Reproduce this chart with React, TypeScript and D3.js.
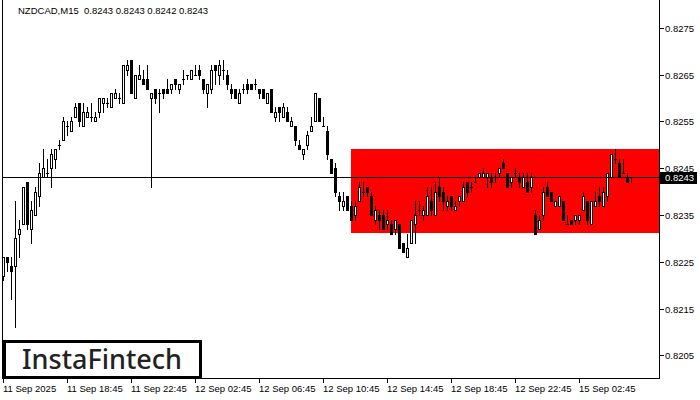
import React from "react";
import * as d3 from "d3";

const TITLE = "NZDCAD,M15  0.8243 0.8243 0.8242 0.8243";
const LAST_PRICE = 0.8243;
const ZONE_START_BAR = 86.9;
const ZONE_TOP = 0.8249;
const ZONE_BOTTOM = 0.82312;

const priceTicks = [0.8275, 0.8265, 0.8255, 0.8245, 0.8235, 0.8225, 0.8215, 0.8205];
const timeTickBars = [0, 16, 32, 48, 64, 80, 96, 112, 128, 144];
const timeTickLabels = [
  "11 Sep 2025", "11 Sep 18:45", "11 Sep 22:45", "12 Sep 02:45", "12 Sep 06:45",
  "12 Sep 10:45", "12 Sep 14:45", "12 Sep 18:45", "12 Sep 22:45", "15 Sep 02:45",
];

const open = [
  0.8222,0.8226,0.8224,0.8224,0.8231,0.8233,0.8242,0.8232,0.8235,0.8239,
  0.8243,0.8244,0.8245,0.8247,0.8250,0.8251,0.8254,0.8253,0.8256,0.8259,
  0.8254,0.8256,0.8256,0.8255,0.8257,0.8259,0.8259,0.8258,0.8260,0.8260,
  0.8259,0.8266,0.8268,0.8260,0.8264,0.8264,0.8264,0.8260,0.8262,0.8261,
  0.8262,0.8262,0.8262,0.8264,0.8262,0.8264,0.8265,0.8264,0.8265,0.8266,
  0.8264,0.8261,0.8262,0.8267,0.8265,0.8266,0.8265,0.8262,0.8262,0.8259,
  0.8262,0.8263,0.8263,0.8263,0.8262,0.8262,0.8259,0.8262,0.8256,0.8258,
  0.8256,0.8257,0.8254,0.8254,0.8250,0.8248,0.8250,0.8253,0.8255,0.8260,
  0.8254,0.8253,0.8247,0.8245,0.8239,0.8237,0.8239,0.8237,0.8235,0.8238,
  0.8240,0.8241,0.8239,0.8234,0.8235,0.8235,0.8233,0.8233,0.8232,0.8233,
  0.8229,0.8226,0.8229,0.8233,0.8236,0.8235,0.8235,0.8238,0.8235,0.8241,
  0.8240,0.8237,0.8239,0.8236,0.8238,0.8238,0.8242,0.8241,0.8242,0.8243,
  0.8243,0.8243,0.8243,0.8243,0.8244,0.8246,0.8244,0.8242,0.8244,0.8243,
  0.8241,0.8242,0.8241,0.8235,0.8232,0.8235,0.8241,0.8240,0.8237,0.8237,
  0.8238,0.8233,0.8234,0.8234,0.8234,0.8236,0.8238,0.8233,0.8237,0.8239,
  0.8237,0.8239,0.8243,0.8247,0.8246,0.8244,0.8243,0.8243,
];
const high = [
  0.8226,0.8226,0.8226,0.8238,0.8234,0.8241,0.8242,0.8238,0.8241,0.8246,
  0.8249,0.8247,0.8249,0.8249,0.8251,0.8256,0.8255,0.8256,0.8259,0.8259,
  0.8259,0.8258,0.8259,0.8257,0.8260,0.8260,0.8260,0.8261,0.8262,0.8261,
  0.8267,0.8268,0.8268,0.8265,0.8267,0.8266,0.8267,0.8261,0.8262,0.8262,
  0.8262,0.8264,0.8263,0.8264,0.8263,0.8266,0.8265,0.8266,0.8267,0.8267,
  0.8264,0.8263,0.8267,0.8267,0.8268,0.8268,0.8266,0.8263,0.8262,0.8262,
  0.8263,0.8264,0.8263,0.8264,0.8262,0.8262,0.8261,0.8262,0.8258,0.8258,
  0.8259,0.8258,0.8256,0.8254,0.8251,0.8249,0.8253,0.8256,0.8261,0.8260,
  0.8256,0.8254,0.8247,0.8246,0.8240,0.8240,0.8239,0.8238,0.8238,0.8242,
  0.8242,0.8241,0.8240,0.8237,0.8236,0.8236,0.8236,0.8234,0.8234,0.8233,
  0.8229,0.8231,0.8234,0.8238,0.8238,0.8237,0.8241,0.8241,0.8242,0.8243,
  0.8241,0.8239,0.8239,0.8238,0.8239,0.8242,0.8242,0.8242,0.8243,0.8244,
  0.8245,0.8244,0.8244,0.8244,0.8245,0.8247,0.8244,0.8243,0.8245,0.8244,
  0.8244,0.8244,0.8244,0.8236,0.8235,0.8241,0.8242,0.8240,0.8238,0.8239,
  0.8238,0.8235,0.8234,0.8235,0.8235,0.8240,0.8238,0.8238,0.8240,0.8241,
  0.8241,0.8244,0.8248,0.8249,0.8247,0.8247,0.8244,0.8243,
];
const low = [
  0.8221,0.8223,0.8217,0.8211,0.8226,0.8233,0.8232,0.8229,0.8235,0.8237,
  0.8243,0.8243,0.8241,0.8245,0.8249,0.8251,0.8252,0.8253,0.8256,0.8254,
  0.8254,0.8256,0.8255,0.8255,0.8256,0.8257,0.8258,0.8258,0.8260,0.8259,
  0.8259,0.8265,0.8261,0.8260,0.8264,0.8263,0.8262,0.8241,0.8259,0.8257,
  0.8260,0.8261,0.8261,0.8262,0.8261,0.8263,0.8264,0.8264,0.8265,0.8264,
  0.8261,0.8258,0.8261,0.8263,0.8263,0.8264,0.8262,0.8260,0.8260,0.8259,
  0.8261,0.8261,0.8262,0.8262,0.8260,0.8260,0.8259,0.8257,0.8255,0.8255,
  0.8256,0.8255,0.8254,0.8250,0.8249,0.8247,0.8249,0.8253,0.8255,0.8255,
  0.8254,0.8247,0.8244,0.8239,0.8236,0.8236,0.8236,0.8234,0.8234,0.8238,
  0.8239,0.8239,0.8235,0.8233,0.8232,0.8232,0.8232,0.8231,0.8231,0.8228,
  0.8227,0.8226,0.8229,0.8229,0.8235,0.8234,0.8235,0.8235,0.8235,0.8238,
  0.8236,0.8236,0.8236,0.8236,0.8237,0.8238,0.8239,0.8240,0.8242,0.8243,
  0.8243,0.8241,0.8241,0.8242,0.8243,0.8245,0.8241,0.8241,0.8243,0.8241,
  0.8241,0.8240,0.8240,0.8231,0.8232,0.8234,0.8239,0.8238,0.8237,0.8237,
  0.8234,0.8233,0.8233,0.8233,0.8233,0.8236,0.8233,0.8233,0.8237,0.8237,
  0.8237,0.8238,0.8243,0.8246,0.8243,0.8244,0.8242,0.8242,
];
const close = [
  0.8226,0.8225,0.8223,0.8230,0.8232,0.8241,0.8233,0.8236,0.8240,0.8244,
  0.8245,0.8244,0.8248,0.8249,0.8250,0.8255,0.8254,0.8255,0.8258,0.8255,
  0.8257,0.8257,0.8256,0.8256,0.8260,0.8260,0.8259,0.8261,0.8261,0.8260,
  0.8267,0.8267,0.8261,0.8265,0.8265,0.8263,0.8262,0.8261,0.8260,0.8261,
  0.8261,0.8261,0.8263,0.8263,0.8263,0.8264,0.8265,0.8266,0.8265,0.8265,
  0.8262,0.8263,0.8266,0.8266,0.8267,0.8266,0.8263,0.8261,0.8260,0.8261,
  0.8262,0.8262,0.8262,0.8263,0.8261,0.8260,0.8261,0.8257,0.8257,0.8257,
  0.8258,0.8255,0.8255,0.8251,0.8249,0.8249,0.8252,0.8254,0.8261,0.8255,
  0.8254,0.8248,0.8244,0.8240,0.8238,0.8238,0.8236,0.8234,0.8237,0.8241,
  0.8240,0.8240,0.8235,0.8236,0.8234,0.8232,0.8234,0.8231,0.8234,0.8228,
  0.8227,0.8228,0.8234,0.8235,0.8236,0.8236,0.8239,0.8236,0.8240,0.8239,
  0.8238,0.8238,0.8237,0.8237,0.8239,0.8241,0.8240,0.8241,0.8242,0.8244,
  0.8244,0.8244,0.8242,0.8243,0.8245,0.8245,0.8241,0.8243,0.8244,0.8242,
  0.8243,0.8240,0.8243,0.8231,0.8234,0.8240,0.8239,0.8238,0.8238,0.8239,
  0.8234,0.8233,0.8233,0.8235,0.8235,0.8239,0.8234,0.8238,0.8238,0.8238,
  0.8240,0.8244,0.8248,0.8247,0.8243,0.8244,0.8242,0.8243,
];

const PLOT_LEFT = 2.5;
const PLOT_RIGHT = 659.5;
const PLOT_BOTTOM = 378.5;
const FONT = "'Liberation Sans', Arial, sans-serif";

export default function App() {
  const y = d3.scaleLinear().domain([0.8205, 0.8275]).range([355.3, 27.7]);
  const x = d3.scaleLinear().domain([0, 157]).range([3.5, 631.5]);
  const py = (p: number) => Math.round(y(p)) + 0.5;

  const candles = open.map((o, i) => {
    const c = close[i];
    const cx = x(i);
    const yh = py(high[i]);
    const yl = py(low[i]);
    const yt = py(Math.max(o, c));
    const yb = py(Math.min(o, c));
    const bull = c >= o;
    return (
      <g key={i}>
        <line x1={cx} x2={cx} y1={yh - 0.5} y2={yl + 0.5} stroke="#000" strokeWidth={1} />
        {yb - yt < 1 ? (
          <line x1={cx - 1.5} x2={cx + 1.5} y1={yt} y2={yt} stroke="#000" strokeWidth={1} />
        ) : (
          <rect x={cx - 1} y={yt} width={2} height={yb - yt} fill={bull ? "#fff" : "#000"} stroke="#000" strokeWidth={1} />
        )}
      </g>
    );
  });

  const zoneX = x(ZONE_START_BAR);
  const lastY = py(LAST_PRICE);

  return (
    <svg width={700} height={400} style={{ position: "absolute", left: 0, top: 0, background: "#fff" }} shapeRendering="crispEdges">
      <rect x={0} y={0} width={700} height={400} fill="#fff" />
      <rect x={Math.round(zoneX)} y={Math.round(y(ZONE_TOP))} width={PLOT_RIGHT - Math.round(zoneX)} height={Math.round(y(ZONE_BOTTOM)) - Math.round(y(ZONE_TOP))} fill="#ff0000" />
      <g>{candles}</g>
      <line x1={PLOT_LEFT} x2={PLOT_RIGHT} y1={lastY} y2={lastY} stroke="#000" strokeWidth={1} />
      {/* frame */}
      <line x1={PLOT_LEFT} x2={PLOT_LEFT} y1={0} y2={PLOT_BOTTOM} stroke="#000" />
      <line x1={PLOT_RIGHT} x2={PLOT_RIGHT} y1={0} y2={PLOT_BOTTOM} stroke="#000" />
      <line x1={PLOT_LEFT} x2={PLOT_RIGHT} y1={PLOT_BOTTOM} y2={PLOT_BOTTOM} stroke="#000" />
      {/* price axis */}
      {priceTicks.map((p) => (
        <g key={p}>
          <line x1={PLOT_RIGHT} x2={PLOT_RIGHT + 4} y1={py(p)} y2={py(p)} stroke="#000" />
          <text x={665} y={py(p) + 3.5} fontFamily={FONT} fontSize={9.5} fill="#000">
            {p.toFixed(4)}
          </text>
        </g>
      ))}
      <rect x={660} y={lastY - 6} width={37} height={12} fill="#000" />
      <text x={665} y={lastY + 3.5} fontFamily={FONT} fontSize={9.5} fill="#fff">
        {LAST_PRICE.toFixed(4)}
      </text>
      {/* time axis */}
      {timeTickBars.map((b, k) => (
        <g key={b}>
          <line x1={x(b)} x2={x(b)} y1={PLOT_BOTTOM} y2={PLOT_BOTTOM + 4} stroke="#000" />
          <text x={x(b) - 0.5} y={392} fontFamily={FONT} fontSize={9.5} fill="#000">
            {timeTickLabels[k]}
          </text>
        </g>
      ))}
      {/* title */}
      <text x={18} y={14} fontFamily={FONT} fontSize={9.5} fill="#000" style={{ whiteSpace: "pre" }} xmlSpace="preserve">
        {TITLE}
      </text>
      {/* logo */}
      <rect x={4} y={341.5} width={196} height={36} fill="#fff" stroke="#000" strokeWidth={3} />
      <text x={22} y={369} fontFamily="'Noto Sans', Inter, sans-serif" fontWeight={500} fontSize={27} fill="#222" textLength={160} lengthAdjust="spacingAndGlyphs">
        InstaFintech
      </text>
    </svg>
  );
}
